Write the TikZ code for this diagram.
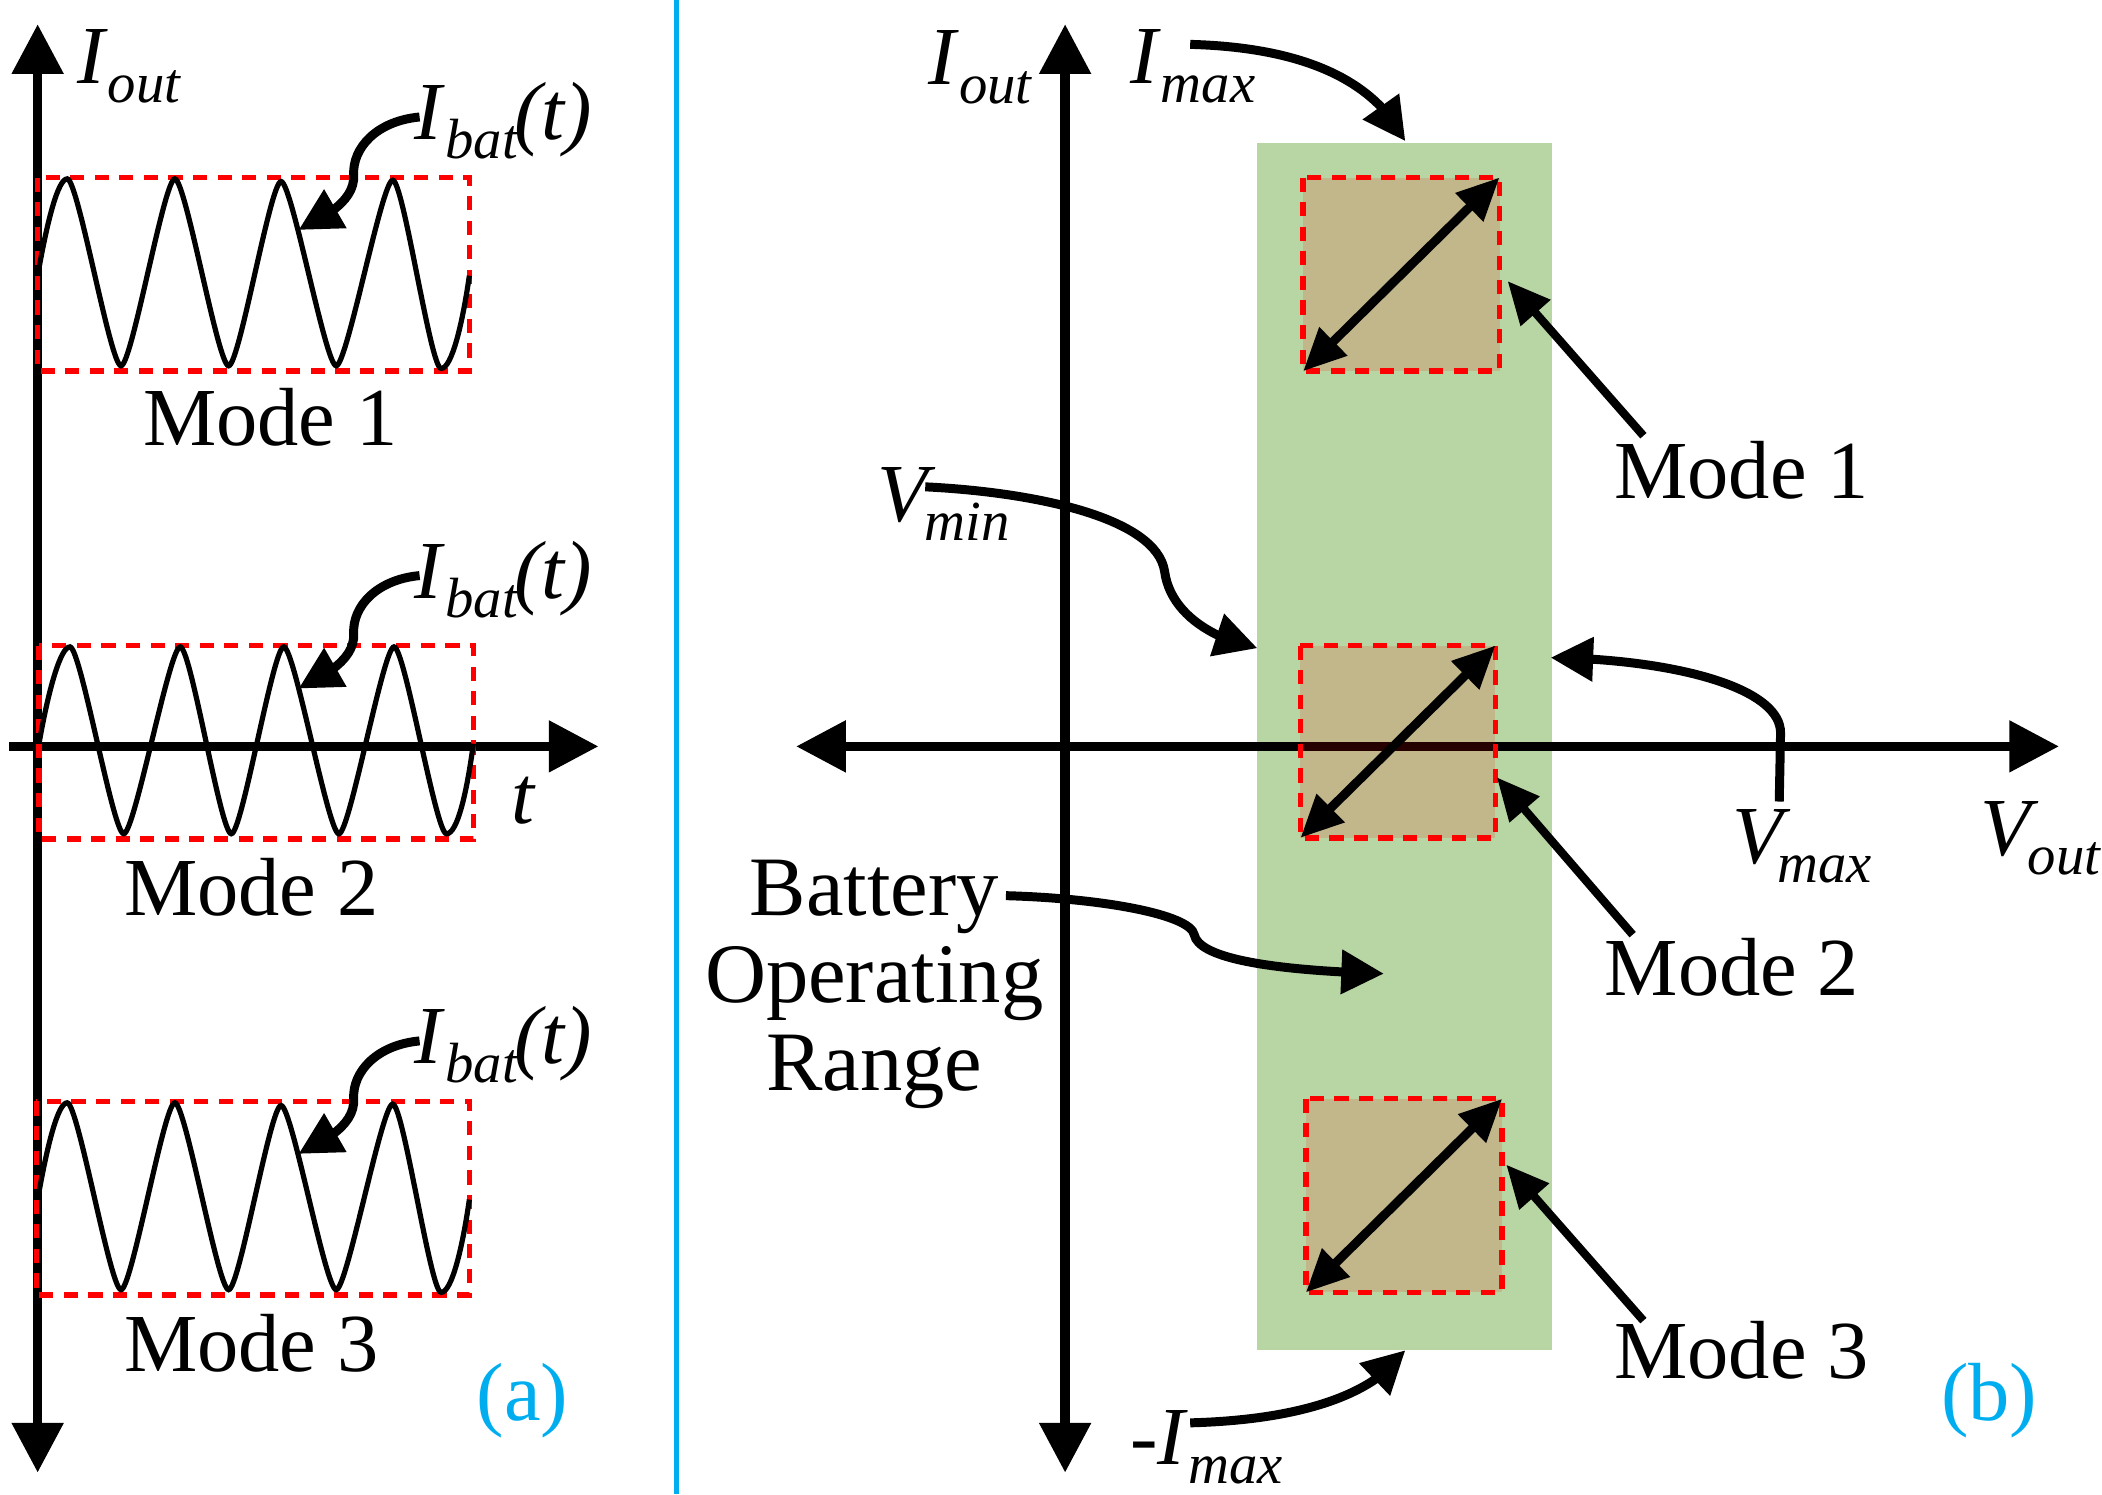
\documentclass[tikz,border=0pt]{standalone}
\usepackage{fontspec}
\setmainfont{Liberation Serif}
\usetikzlibrary{arrows.meta,bending}
\definecolor{panelblue}{HTML}{00AEEF}
\definecolor{rangegreen}{RGB}{184,214,164}
\newcommand{\sublab}[3][0pt]{\textit{#2}\kern#1\raisebox{-8pt}{\fontsize{24}{24}\selectfont\textit{#3}}}
\tikzset{
 lbl/.style={anchor=base west,inner sep=0pt,font=\fontsize{34.9}{37}\selectfont},
 axis/.style={line width=4pt,-{Triangle[length=21pt,width=21pt]}},
 axisboth/.style={line width=4pt,{Triangle[length=21pt,width=21pt]}-{Triangle[length=21pt,width=21pt]}},
 pointer/.style={line width=3.8pt,-{Triangle[length=18pt,width=18pt]}},
 thin pointer/.style={line width=3.5pt,-{Triangle[length=18pt,width=16pt]}},
 diag/.style={line width=3.8pt,{Triangle[length=18pt,width=16pt]}-{Triangle[length=18pt,width=16pt]}},
 wave/.style={line width=2.2pt,black},
 modebox/.style={draw=red,line width=2.3pt,dash pattern=on 6pt off 4.4pt},
 divider/.style={draw=panelblue,line width=2pt},
}
\begin{document}
\begin{tikzpicture}[x=0.02cm,y=-0.02cm]
\useasboundingbox (0,0) rectangle (1563,1111);
% divider
\coordinate (dt) at (503,0); \coordinate (db) at (503,1111);
\draw[divider] (dt) -- (db);
% ---------- panel a ----------
\coordinate (ayb) at (28,1095); \coordinate (ayt) at (28,18);
\draw[axisboth] (ayb) -- (ayt);
\coordinate (axl) at (7,555); \coordinate (axr) at (445,555);
\draw[axis] (axl) -- (axr);
\foreach \xa/\ya/\xb/\yb in {28/132/349/276,29/480/352/624,27/819/349/963}
  \draw[modebox] (\xa,\ya) rectangle (\xb,\yb);
\newcommand{\wavea}{(28,205) .. controls (35,165) and (43,133) .. (50,133)
 .. controls (58,133) and (82,272) .. (90,272)
 .. controls (98,272) and (122,133) .. (130,133)
 .. controls (138,133) and (162,272) .. (170,272)
 .. controls (178,272) and (201,135) .. (209,135)
 .. controls (217,135) and (242,272) .. (250,272)
 .. controls (258,272) and (284,134) .. (292,134)
 .. controls (300,134) and (320,274) .. (328,274)
 .. controls (336,274) and (344,240) .. (349,205)}
\draw[wave] \wavea;
\begin{scope}[shift={(0,687)}]\draw[wave] \wavea;\end{scope}
\draw[wave] (29,553) .. controls (36,513) and (45,481) .. (52,481)
 .. controls (60,481) and (84,620) .. (92,620)
 .. controls (100,620) and (126,481) .. (134,481)
 .. controls (142,481) and (164,620) .. (172,620)
 .. controls (180,620) and (203,481) .. (211,481)
 .. controls (219,481) and (244,620) .. (252,620)
 .. controls (260,620) and (285,481) .. (293,481)
 .. controls (301,481) and (324,620) .. (332,620)
 .. controls (340,620) and (347,590) .. (352,553);
\node[lbl] (ioa) at (57,62) {\sublab{I}{out}};
\node[lbl] (ta) at (380,612) {\textit{t}};
\foreach \n/\dy in {1/0,2/341,3/687}{
  \node[lbl] (ib\n) at (308,104+\dy) {\sublab{I}{bat}\kern-2pt\textit{(t)}};
  \coordinate (ibs\n) at (312,87+\dy);
  \coordinate (ibe\n) at (222,171+\dy);
  \draw[pointer] (ibs\n) .. controls (280,90+\dy) and (262,110+\dy) .. (263,130+\dy)
     .. controls (264,148+\dy) and (245,160+\dy) .. (ibe\n);
}
\node[lbl] (m1a) at (106,331) {Mode 1};
\node[lbl] (m2a) at (92,681) {Mode 2};
\node[lbl] (m3a) at (92,1020) {Mode 3};
\node[lbl,text=panelblue] (la) at (354,1056) {(a)};
% ---------- panel b ----------
\fill[rangegreen] (935,106) rectangle (1154,1004);
\coordinate (byb) at (792,1095); \coordinate (byt) at (792,18);
\draw[axisboth] (byb) -- (byt);
\coordinate (bxl) at (592,555); \coordinate (bxr) at (1531,555);
\draw[axisboth] (bxl) -- (bxr);
\foreach \xa/\ya/\xb/\yb in {969/132/1115/276,967/480/1112/623,971/817/1117/961}{
  \fill[red,opacity=.15] (\xa,\ya) rectangle (\xb,\yb);
  \draw[modebox] (\xa,\ya) rectangle (\xb,\yb);
  \coordinate (p) at (\xa,\yb); \coordinate (q) at (\xb,\ya);
  \draw[diag] (p) -- (q);
}
\node[lbl] (iob) at (690,63) {\sublab{I}{out}};
\node[lbl] (imax) at (840,62) {\sublab{I}{max}};
\coordinate (imaxs) at (885,33); \coordinate (imaxe) at (1045,105);
\draw[pointer] (imaxs) .. controls (960,35) and (1020,55) .. (imaxe);
\node[lbl] (vmin) at (652,388) {\sublab[-4.5pt]{V}{min}};
\coordinate (vmins) at (688,362); \coordinate (vmine) at (935,482);
\draw[pointer] (vmins) .. controls (770,366) and (860,385) .. (866,425)
  .. controls (870,455) and (900,475) .. (vmine);
\node[lbl] (vmax) at (1288,642) {\sublab[-5.7pt]{V}{max}};
\coordinate (vmaxs) at (1323,596); \coordinate (vmaxe) at (1153,489);
\draw[pointer] (vmaxs) -- (1324,545) .. controls (1324,510) and (1240,490) .. (vmaxe);
\node[lbl] (vout) at (1472,636) {\sublab[-4.5pt]{V}{out}};
\node[lbl,anchor=center,align=center,font=\fontsize{35.8}{37}\selectfont] (bor) at (650,732) {Battery\\Operating\\Range};
\coordinate (bors) at (748,666); \coordinate (bore) at (1029,724);
\draw[pointer] (bors) .. controls (820,668) and (885,680) .. (888,695)
  .. controls (892,715) and (960,722) .. (bore);
\node[lbl] (m1b) at (1200,371) {Mode 1};
\node[lbl] (m2b) at (1193,740) {Mode 2};
\node[lbl] (m3b) at (1200,1025) {Mode 3};
\foreach \n/\xa/\ya/\xb/\yb in {1/1222/324/1121/209,2/1214/695/1113/578,3/1222/982/1120/866}{
  \coordinate (ms\n) at (\xa,\ya); \coordinate (me\n) at (\xb,\yb);
  \draw[thin pointer] (ms\n) -- (me\n);
}
\node[lbl] (imin) at (840,1089) {-\sublab{I}{max}};
\coordinate (imins) at (885,1058); \coordinate (imine) at (1045,1004);
\draw[pointer] (imins) .. controls (960,1056) and (1020,1040) .. (imine);
\node[lbl,text=panelblue] (lb) at (1443,1056) {(b)};
\end{tikzpicture}
\end{document}
